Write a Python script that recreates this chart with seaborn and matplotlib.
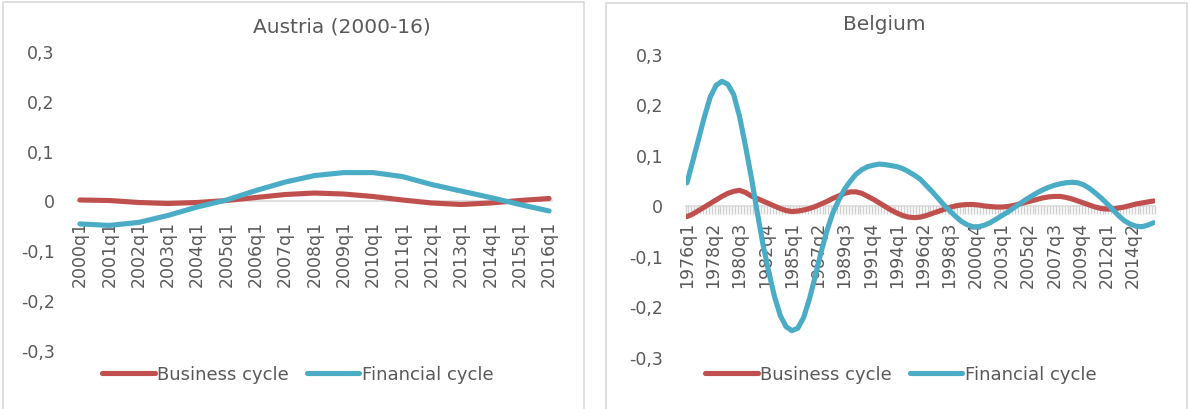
import matplotlib
matplotlib.use("Agg")
import matplotlib.pyplot as plt
from matplotlib.lines import Line2D
from matplotlib.patches import Rectangle
import seaborn as sns
import pandas as pd
import numpy as np

# ---------------- data ----------------
at_quarters = [f"{y}q1" for y in range(2000, 2017)]
at_business = [0.001, 0.000, -0.004, -0.006, -0.004, 0.000, 0.006, 0.012, 0.015,
               0.013, 0.008, 0.001, -0.005, -0.008, -0.005, 0.000, 0.004]
at_financial = [-0.047, -0.050, -0.044, -0.030, -0.013, 0.001, 0.020, 0.037, 0.050,
                0.056, 0.056, 0.048, 0.032, 0.019, 0.006, -0.008, -0.021]

be_quarters = [f"{y}q{q}" for y in range(1976, 2017) for q in range(1, 5)][:161]
be_sampled = be_quarters[::2]          # values read every second quarter
be_business = [
    -0.022, -0.017, -0.010, -0.003, 0.004, 0.011, 0.018, 0.024, 0.028, 0.030,
    0.026, 0.019, 0.014, 0.009, 0.004, -0.001, -0.006, -0.010, -0.012, -0.011,
    -0.009, -0.006, -0.002, 0.003, 0.008, 0.014, 0.019, 0.024, 0.027, 0.027,
    0.024, 0.018, 0.012, 0.005, -0.002, -0.009, -0.015, -0.020, -0.023, -0.024,
    -0.023, -0.020, -0.016, -0.012, -0.008, -0.004, -0.001, 0.001, 0.002, 0.002,
    0.001, -0.001, -0.002, -0.003, -0.003, -0.002, 0.000, 0.003, 0.006, 0.009,
    0.012, 0.015, 0.017, 0.018, 0.018, 0.016, 0.013, 0.009, 0.005, 0.001,
    -0.003, -0.006, -0.007, -0.007, -0.005, -0.003, 0.000, 0.003, 0.005, 0.007,
    0.009]
be_financial = [
    0.045, 0.088, 0.132, 0.176, 0.215, 0.238, 0.246, 0.240, 0.220, 0.177,
    0.120, 0.058, -0.010, -0.075, -0.130, -0.180, -0.218, -0.240, -0.248, -0.243,
    -0.222, -0.185, -0.140, -0.092, -0.050, -0.015, 0.010, 0.032, 0.048, 0.062,
    0.071, 0.077, 0.080, 0.082, 0.081, 0.079, 0.077, 0.073, 0.067, 0.060,
    0.052, 0.040, 0.028, 0.015, 0.002, -0.010, -0.021, -0.031, -0.038, -0.042,
    -0.042, -0.039, -0.034, -0.027, -0.020, -0.013, -0.005, 0.003, 0.011, 0.018,
    0.025, 0.031, 0.036, 0.040, 0.043, 0.045, 0.046, 0.045, 0.041, 0.034,
    0.025, 0.015, 0.004, -0.008, -0.020, -0.030, -0.037, -0.041, -0.042, -0.039,
    -0.034]

y_ticks = [0.3, 0.2, 0.1, 0.0, -0.1, -0.2, -0.3]
y_labels = ["0,3", "0,2", "0,1", "0", "-0,1", "-0,2", "-0,3"]
series_names = ["Business cycle", "Financial cycle"]
titles = ["Austria (2000-16)", "Belgium"]

# ---------------- style ----------------
sns.set_theme(style="white")
plt.rcParams["font.family"] = ["DejaVu Sans"]
plt.rcParams["lines.solid_capstyle"] = "round"
TXT = "#595959"
GRID = "#D9D9D9"
palette = {"Business cycle": "#C0504D", "Financial cycle": "#4BACC6"}
LW = 3.7

W, H = 1189, 410
fig = plt.figure(figsize=(W / 100, H / 100), dpi=100)

def px_axes(left, top, right, bottom):
    return fig.add_axes([left / W, 1 - bottom / H, (right - left) / W, (bottom - top) / H])

# panel borders
for (l, r, t) in [(3, 584, 3), (606, 1187, 4)]:
    fig.add_artist(Rectangle((l / W, -0.05), (r - l) / W, 1 - t / H + 0.05,
                             transform=fig.transFigure, fill=False,
                             edgecolor=GRID, linewidth=1.2))

def make_df(cats, pos_map, bus, fin):
    return pd.DataFrame({
        "pos": [pos_map[c] for c in cats] * 2,
        "value": list(bus) + list(fin),
        "series": [series_names[0]] * len(bus) + [series_names[1]] * len(fin),
    })

def base_axis(ax):
    for s in ["top", "right", "left"]:
        ax.spines[s].set_visible(False)
    ax.spines["bottom"].set_position(("data", 0))
    ax.spines["bottom"].set_color(GRID)
    ax.spines["bottom"].set_linewidth(1.2)
    ax.spines["bottom"].set_zorder(1)
    ax.set_ylim(-0.3, 0.3)
    ax.set_yticks(y_ticks)
    ax.set_yticklabels(y_labels)
    ax.tick_params(axis="y", length=0, pad=16, labelsize=12.5, labelcolor=TXT)
    ax.patch.set_alpha(0)

# ---------------- Austria ----------------
ax1 = px_axes(77, 52, 552, 351)
base_axis(ax1)
at_pos = {c: i for i, c in enumerate(at_quarters)}
df1 = make_df(at_quarters, at_pos, at_business, at_financial)
sns.lineplot(data=df1, x="pos", y="value", hue="series", palette=palette,
             linewidth=LW, legend=False, ax=ax1, zorder=3)
ax1.set_xlim(-0.1, len(at_quarters) - 0.9)
ax1.set_xticks(range(len(at_quarters)))
ax1.set_xticklabels(at_quarters)
ax1.tick_params(axis="x", which="major", length=0, pad=14, labelrotation=90,
                labelsize=12.5, labelcolor=TXT)

# ---------------- Belgium ----------------
ax2 = px_axes(685.5, 55, 1155, 358)
base_axis(ax2)
be_pos = {c: i for i, c in enumerate(be_quarters)}
df2 = make_df(be_sampled, be_pos, be_business, be_financial)
sns.lineplot(data=df2, x="pos", y="value", hue="series", palette=palette,
             linewidth=LW, legend=False, ax=ax2, zorder=3)
ax2.set_xlim(-0.5, len(be_quarters) - 0.5)
lab_idx = list(range(0, len(be_quarters) - 1, 9))
ax2.set_xticks(lab_idx)
ax2.set_xticklabels([be_quarters[i] for i in lab_idx])
ax2.set_xticks(np.arange(-0.5, len(be_quarters)), minor=True)
ax2.tick_params(axis="x", which="major", length=0, pad=11, labelrotation=90,
                labelsize=12.5, labelcolor=TXT)
ax2.tick_params(axis="x", which="minor", length=6, width=1.0, color="#D0D0D0",
                direction="out", bottom=True)

for ax, title, tx, ty in [(ax1, titles[0], 342, 27), (ax2, titles[1], 884, 25)]:
    ax.set_xlabel("")
    ax.set_ylabel("")
    fig.text(tx / W, 1 - ty / H, title, ha="center", va="center", fontsize=14.5, color=TXT)

# ---------------- legends ----------------
handles = [Line2D([0], [0], color=palette[n], linewidth=LW) for n in series_names]
for cx in [298, 901]:
    fig.legend(handles, series_names, loc="center", bbox_to_anchor=(cx / W, 1 - 375 / H),
               ncol=2, frameon=False, fontsize=13, labelcolor=TXT,
               handlelength=2.9, handletextpad=0.15, columnspacing=1.0)

fig.savefig("out.png", dpi=100)
